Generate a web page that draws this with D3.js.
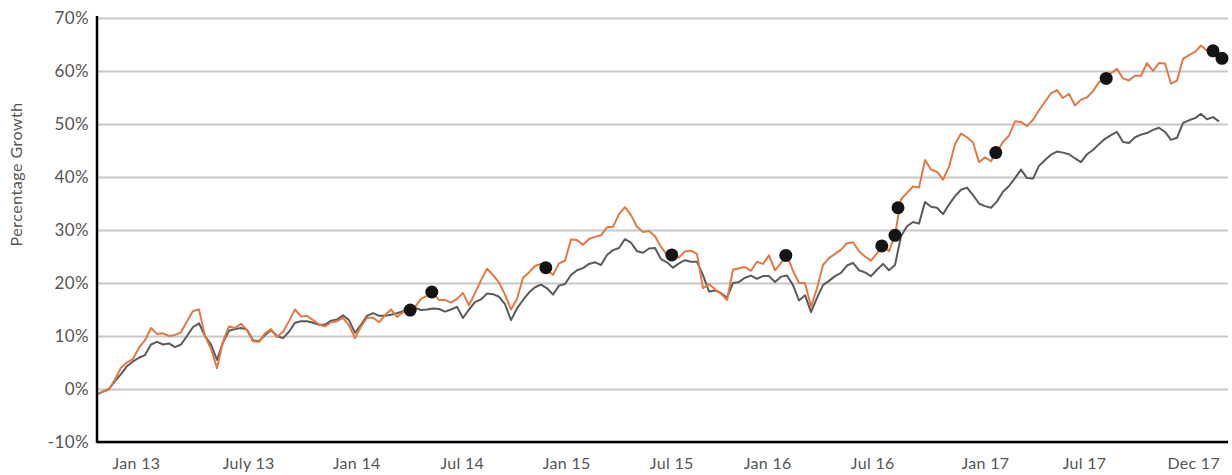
<!DOCTYPE html>
<html>
<head>
<meta charset="utf-8">
<script src="https://cdn.jsdelivr.net/npm/d3@7"></script>
<style>
    body { margin: 0; background: #fff; }
    svg text { font-family: Lato, "Open Sans", sans-serif; fill: #555; }
</style>
</head>
<body>
<div id="chart"></div>
<script>
// fund (orange) and benchmark (grey), percentage growth, one reading per sample step
const fund = [
    -1.0, -0.5, -0.1, 1.8, 4.0, 5.0, 5.7, 7.8, 9.2, 11.5,
    10.4, 10.5, 10.0, 10.2, 10.7, 12.8, 14.7, 15.0, 10.0, 7.6,
    3.9, 9.0, 11.8, 11.5, 12.3, 11.1, 9.0, 8.9, 10.5, 11.3,
    9.8, 10.8, 12.8, 15.0, 13.7, 13.8, 13.0, 12.2, 11.8, 12.6,
    12.8, 13.4, 12.0, 9.6, 11.8, 13.4, 13.5, 12.6, 13.9, 15.0,
    13.6, 14.5, 14.8, 15.5, 17.0, 17.6, 18.1, 16.8, 16.8, 16.3,
    17.0, 18.1, 15.8, 18.1, 20.5, 22.7, 21.5, 20.1, 17.8, 15.0,
    17.0, 21.0, 22.0, 23.2, 23.6, 22.5, 21.5, 23.7, 24.2, 28.2,
    28.1, 27.2, 28.3, 28.7, 29.0, 30.5, 30.6, 33.0, 34.3, 32.8,
    30.6, 29.6, 29.8, 28.8, 26.8, 25.3, 25.0, 24.8, 26.0, 26.1,
    25.5, 19.0, 19.8, 18.8, 18.0, 16.8, 22.5, 22.8, 23.0, 22.3,
    24.0, 23.6, 25.2, 22.4, 23.8, 25.2, 22.3, 20.0, 20.0, 15.5,
    19.0, 23.4, 24.7, 25.5, 26.3, 27.5, 27.7, 26.0, 25.0, 24.2,
    25.6, 27.0, 26.0, 29.0, 35.8, 37.0, 38.2, 38.0, 43.2, 41.4,
    41.0, 39.5, 41.9, 46.2, 48.2, 47.5, 46.5, 42.8, 43.7, 43.0,
    44.8, 46.6, 47.8, 50.5, 50.4, 49.6, 50.8, 52.6, 54.2, 55.8,
    56.4, 54.9, 55.7, 53.5, 54.6, 55.0, 56.2, 57.9, 58.5, 59.6,
    60.4, 58.6, 58.2, 59.1, 59.1, 61.5, 60.0, 61.5, 61.4, 57.6,
    58.2, 62.3, 63.0, 63.6, 64.8, 63.8, 63.8, 62.8, 62.0
];

const benchmark = [
    -1.0, -0.5, 0.0, 1.5, 2.8, 4.3, 5.2, 5.9, 6.4, 8.4,
    8.9, 8.4, 8.6, 7.9, 8.4, 10.0, 11.7, 12.4, 10.0, 8.4,
    5.5, 8.8, 11.0, 11.3, 11.5, 11.2, 9.2, 9.0, 10.2, 11.1,
    10.0, 9.6, 10.8, 12.5, 12.8, 12.8, 12.5, 12.1, 12.1, 12.9,
    13.1, 13.9, 13.0, 10.6, 12.1, 13.8, 14.3, 13.8, 13.8, 14.0,
    14.3, 14.7, 15.0, 15.3, 14.9, 15.0, 15.2, 15.1, 14.6, 15.0,
    15.5, 13.4, 15.0, 16.4, 16.9, 18.0, 17.9, 17.4, 16.0, 13.0,
    15.2, 16.8, 18.2, 19.2, 19.7, 19.0, 17.8, 19.5, 19.8, 21.5,
    22.4, 22.8, 23.6, 23.9, 23.4, 25.3, 26.2, 26.6, 28.3, 27.6,
    26.0, 25.7, 26.5, 26.6, 24.5, 23.9, 22.9, 23.7, 24.3, 24.0,
    24.0, 21.5, 18.4, 18.6, 18.1, 17.2, 20.0, 20.2, 21.0, 21.4,
    20.8, 21.3, 21.3, 20.2, 21.2, 21.4, 19.6, 16.7, 17.7, 14.5,
    17.2, 19.6, 20.4, 21.3, 21.9, 23.3, 23.8, 22.4, 22.0, 21.3,
    22.5, 23.6, 22.4, 23.4, 28.8, 30.7, 31.5, 31.2, 35.3, 34.4,
    34.2, 33.0, 34.8, 36.4, 37.6, 38.0, 36.6, 35.0, 34.5, 34.2,
    35.4, 37.2, 38.3, 39.8, 41.4, 39.8, 39.7, 42.1, 43.2, 44.2,
    44.8, 44.6, 44.3, 43.5, 42.8, 44.3, 45.1, 46.2, 47.2, 47.9,
    48.5, 46.6, 46.4, 47.5, 48.0, 48.3, 48.9, 49.3, 48.5, 47.0,
    47.4, 50.2, 50.7, 51.1, 51.9, 50.9, 51.3, 50.5
];

// event markers on the fund line (sample position, value)
const markerPos = [52.2, 55.8, 74.8, 95.8, 114.8, 130.8, 133.0, 133.5, 149.8, 168.2, 186.0, 187.5];
const markerVal = [14.9, 18.3, 22.9, 25.3, 25.2, 27.0, 29.0, 34.2, 44.6, 58.6, 63.8, 62.4];

// x tick labels (sample position, text)
const xTickPos = [6.5, 25.2, 43.2, 60.8, 78.2, 95.7, 111.7, 129.2, 148, 164.5, 182.7];
const xTickLabels = ['Jan 13', 'July 13', 'Jan 14', 'Jul 14', 'Jan 15', 'Jul 15', 'Jan 16', 'Jul 16', 'Jan 17', 'Jul 17', 'Dec 17'];

const yTicks = [-10, 0, 10, 20, 30, 40, 50, 60, 70];

const FIGURE = { WIDTH: 1232, HEIGHT: 475 };
const MARGINS = { LEFT: 97, TOP: 18, RIGHT: 4, BOTTOM: 33 };
const PLOT = {
    WIDTH: FIGURE.WIDTH - MARGINS.LEFT - MARGINS.RIGHT,
    HEIGHT: FIGURE.HEIGHT - MARGINS.TOP - MARGINS.BOTTOM
};

const x = d3.scaleLinear()
    .domain([0, fund.length - 1])
    .range([0, 1128]);

const y = d3.scaleLinear()
    .domain([-10, 70])
    .range([PLOT.HEIGHT, 0]);

const canvas = d3.select('#chart')
    .append('svg')
        .attr('width', FIGURE.WIDTH)
        .attr('height', FIGURE.HEIGHT);

const plot = canvas.append('g')
    .attr('transform', `translate(${MARGINS.LEFT}, ${MARGINS.TOP})`);

// gridlines
const yAxis = d3.axisLeft(y)
    .tickValues(yTicks)
    .tickSize(-PLOT.WIDTH)
    .tickPadding(8)
    .tickFormat(d => d + '%');

plot.append('g')
    .attr('class', 'yAxis')
    .call(yAxis)
    .call(g => g.select('.domain').remove())
    .call(g => g.selectAll('line').attr('stroke', '#c8c8c8').attr('stroke-width', 2))
    .call(g => g.selectAll('text').style('font-size', '17px').style('letter-spacing', '0.4px').attr('fill', '#555'));

// x labels
const xAxis = d3.axisBottom(x)
    .tickValues(xTickPos)
    .tickSize(0)
    .tickPadding(16)
    .tickFormat((d, i) => xTickLabels[i]);

plot.append('g')
    .attr('class', 'xAxis')
    .attr('transform', `translate(0, ${PLOT.HEIGHT})`)
    .call(xAxis)
    .call(g => g.select('.domain').remove())
    .call(g => g.selectAll('text').style('font-size', '16px').style('letter-spacing', '0.3px').attr('fill', '#555'));

const line = d3.line()
    .x((d, i) => x(i))
    .y(d => y(d));

plot.append('path')
    .datum(benchmark)
    .attr('fill', 'none')
    .attr('stroke', '#5a5a5a')
    .attr('stroke-width', 2)
    .attr('stroke-linejoin', 'round')
    .attr('d', line);

plot.append('path')
    .datum(fund)
    .attr('fill', 'none')
    .attr('stroke', '#e07a45')
    .attr('stroke-width', 2)
    .attr('stroke-linejoin', 'round')
    .attr('d', line);

plot.append('g')
    .selectAll('circle')
    .data(markerPos)
    .enter()
    .append('circle')
        .attr('cx', d => x(d))
        .attr('cy', (d, i) => y(markerVal[i]))
        .attr('r', 6.5)
        .attr('fill', '#141414');

// axis lines
plot.append('line')
    .attr('x1', 0).attr('x2', 0)
    .attr('y1', -2).attr('y2', PLOT.HEIGHT + 1)
    .attr('stroke', '#000').attr('stroke-width', 2.5);

plot.append('line')
    .attr('x1', 0).attr('x2', PLOT.WIDTH)
    .attr('y1', PLOT.HEIGHT).attr('y2', PLOT.HEIGHT)
    .attr('stroke', '#000').attr('stroke-width', 2.5);

canvas.append('text')
    .attr('transform', `translate(22, ${MARGINS.TOP + y(40.5)}) rotate(-90)`)
    .attr('text-anchor', 'middle')
    .style('font-size', '16px')
    .style('letter-spacing', '0.5px')
    .text('Percentage Growth');
</script>
</body>
</html>
